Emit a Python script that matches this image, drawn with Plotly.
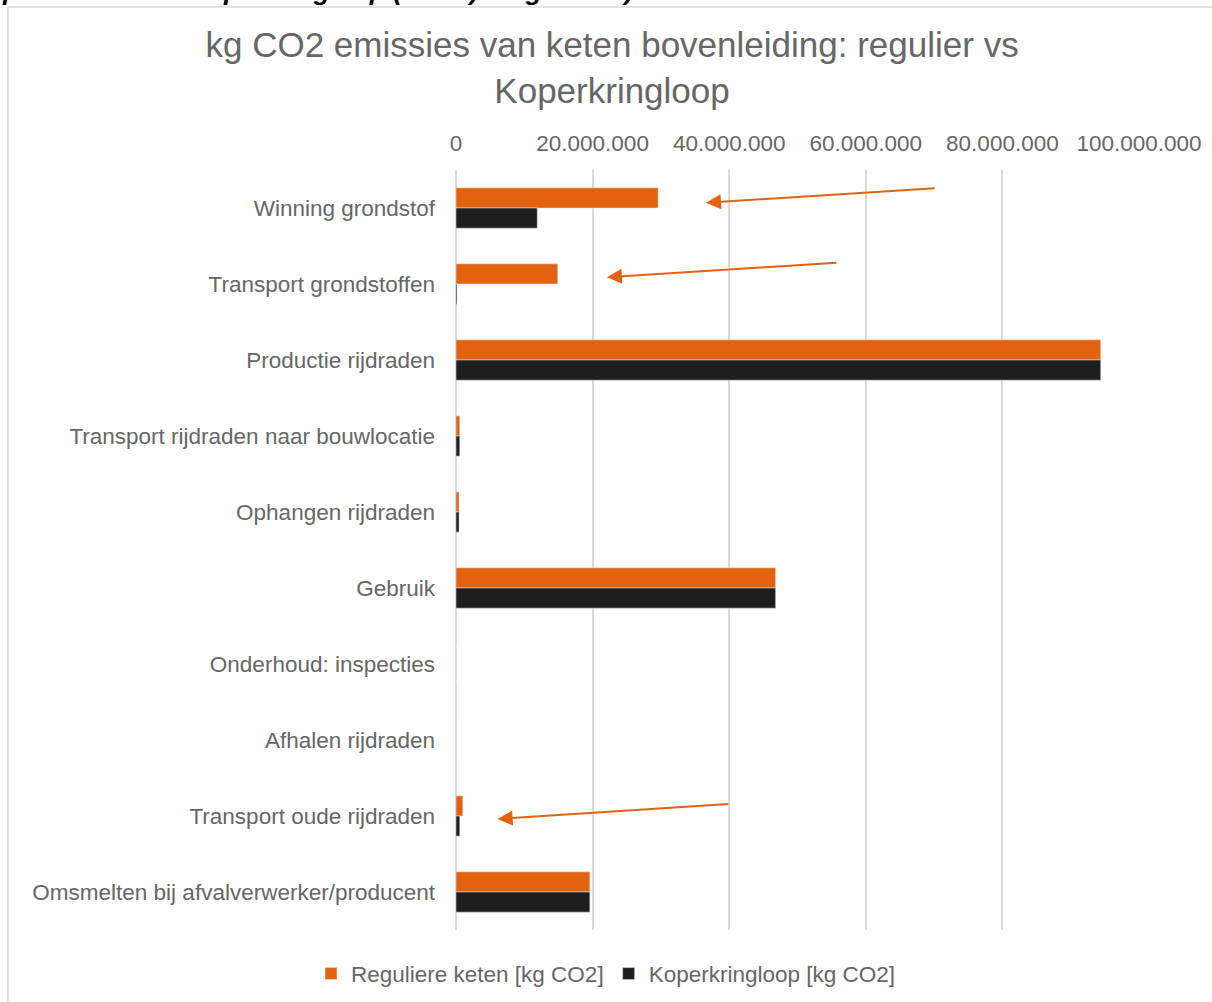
import plotly.graph_objects as go

# Ketenstappen van de bovenleiding (van boven naar beneden)
categories = [
    "Winning grondstof",
    "Transport grondstoffen",
    "Productie rijdraden",
    "Transport rijdraden naar bouwlocatie",
    "Ophangen rijdraden",
    "Gebruik",
    "Onderhoud: inspecties",
    "Afhalen rijdraden",
    "Transport oude rijdraden",
    "Omsmelten bij afvalverwerker/producent",
]

# Emissies in kg CO2 per ketenstap
regulier = [29_600_000, 14_900_000, 94_400_000, 550_000, 450_000,
            46_800_000, 0, 0, 1_000_000, 19_600_000]
koperkringloop = [11_900_000, 150_000, 94_400_000, 550_000, 450_000,
                  46_800_000, 0, 0, 550_000, 19_600_000]

series_names = ["Reguliere keten [kg CO2]", "Koperkringloop [kg CO2]"]
x_ticks = [0, 20_000_000, 40_000_000, 60_000_000, 80_000_000, 100_000_000]

ORANGE = "#E36210"
BLACK = "#1E1E1E"
TEXT = "#666666"
GRID = "#D9D9D9"
FONT = "Liberation Sans, Arial, sans-serif"
FS = 22.5

fig = go.Figure()
fig.add_trace(go.Bar(y=categories, x=regulier, orientation="h",
                     name=series_names[0], marker_color=ORANGE))
fig.add_trace(go.Bar(y=categories, x=koperkringloop, orientation="h",
                     name=series_names[1], marker_color=BLACK))

# Pijlen die de verschillen tussen beide ketens aanwijzen
arrows = [
    dict(x=36_600_000, y=-0.07, ax=70_300_000, ay=-0.26),
    dict(x=22_100_000, y=0.91, ax=55_900_000, ay=0.72),
    dict(x=6_100_000, y=8.04, ax=40_100_000, ay=7.84),
]
for a in arrows:
    fig.add_annotation(x=a["x"], y=a["y"], ax=a["ax"], ay=a["ay"],
                       xref="x", yref="y", axref="x", ayref="y",
                       showarrow=True, arrowhead=2, arrowsize=1.5,
                       arrowwidth=2, arrowcolor=ORANGE, text="")

# Bijschrift boven de grafiek (valt grotendeels buiten beeld)
fig.add_annotation(text="<b><i>proces van de Koperkringloop (zwart) vergeleken).</i></b>",
                   xref="paper", yref="paper", x=-0.667, y=1.2135,
                   xanchor="left", yanchor="bottom", showarrow=False,
                   font=dict(family=FONT, size=26.5, color="#000000"))

# Kader rond het grafiekgebied
frame = dict(type="line", xref="paper", yref="paper",
             line=dict(color=GRID, width=1.5))
fig.add_shape(**frame, x0=-0.656, x1=1.2, y0=1.2145, y1=1.2145)
fig.add_shape(**frame, x0=-0.656, x1=-0.656, y0=1.2145, y1=-0.2)

fig.update_layout(
    width=1212, height=1002,
    margin=dict(l=456, r=73, t=170, b=72, autoexpand=False),
    paper_bgcolor="white", plot_bgcolor="white",
    separators=",.",
    barmode="group", bargap=0.47, bargroupgap=0,
    font=dict(family=FONT, color=TEXT, size=FS),
    title=dict(text="kg CO2 emissies van keten bovenleiding: regulier vs<br>Koperkringloop",
               x=0.505, xanchor="center", y=0.943, yanchor="top",
               font=dict(size=35, color=TEXT)),
    legend=dict(orientation="h", xref="container", x=0.5, xanchor="center",
                yref="container", y=0.028, yanchor="middle",
                font=dict(size=FS, color=TEXT),
                itemwidth=30, traceorder="normal"),
    showlegend=True,
)
fig.update_xaxes(side="top", range=[0, 100_000_000], tickvals=x_ticks,
                 tickformat=",.0f", showgrid=True, gridcolor=GRID, gridwidth=2,
                 zeroline=True, zerolinecolor=GRID, zerolinewidth=2,
                 showline=False, ticks="", ticklabelstandoff=14,
                 automargin=False,
                 tickfont=dict(size=FS, color=TEXT), fixedrange=True)
fig.update_yaxes(autorange="reversed", showgrid=False, showline=False,
                 ticks="", ticklabelstandoff=20, automargin=False,
                 tickfont=dict(size=FS, color=TEXT), fixedrange=True)

fig.write_html("out.html")
